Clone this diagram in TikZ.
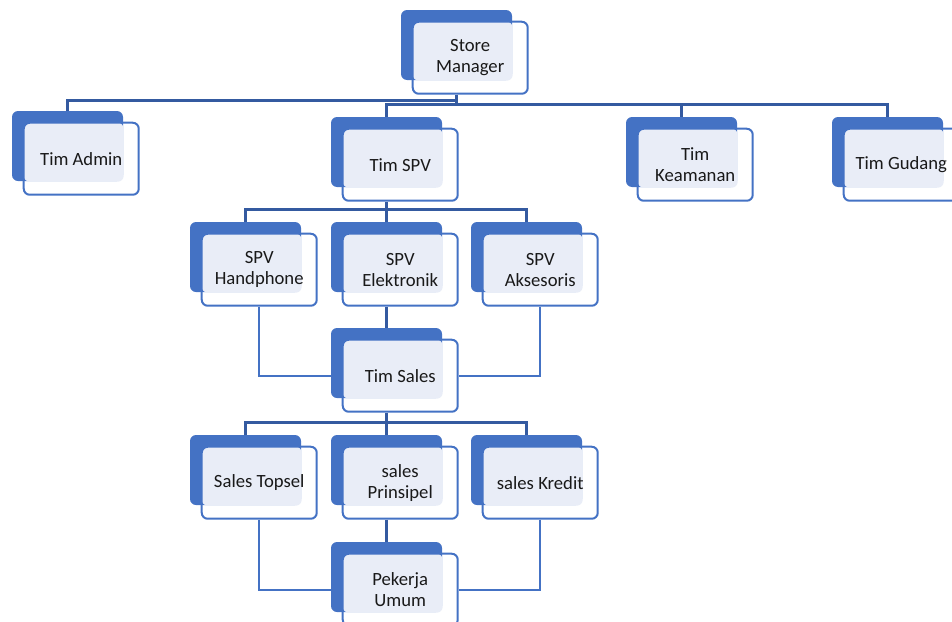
\documentclass[tikz,border=0pt]{standalone}
\usepackage{fontspec}
\setmainfont{Carlito}
\definecolor{orgblue}{RGB}{68,114,196}
\definecolor{orgdark}{RGB}{52,90,160}
\definecolor{orglite}{RGB}{233,237,247}
\usetikzlibrary{positioning,calc,backgrounds}

\begin{document}
\begin{tikzpicture}[
  x=0.75pt,y=-0.75pt,
  bk/.style={fill=orgblue,rounded corners=4.5pt,minimum width=83.25pt,minimum height=52.5pt,inner sep=0pt},
  card/.style={draw=orgblue,line width=1.5pt,rounded corners=4.5pt,minimum width=86.25pt,minimum height=54pt,
    inner sep=0pt,align=center,font=\fontsize{14}{15.5}\selectfont,text=black!90,
    below right=8.25pt and 8.25pt of #1.north west,
    path picture={\fill[orglite,rounded corners=4.5pt] (path picture bounding box.north west) rectangle ++(75pt,-44.25pt);}},
  bus/.style={draw=orgdark,line width=2pt},
  side/.style={draw=orgblue,line width=1.3pt}
]
  \useasboundingbox (0,0) rectangle (952,621);
  \node[bk] (sm-bk) at (456.5,45) {};
  \node[card=sm-bk] (sm) {Store\\Manager};
  \node[bk] (adm-bk) at (67.5,146) {};
  \node[card=adm-bk] (adm) {Tim Admin};
  \node[bk] (spv-bk) at (386.5,152) {};
  \node[card=spv-bk] (spv) {Tim SPV};
  \node[bk] (kea-bk) at (681.5,152) {};
  \node[card=kea-bk] (kea) {Tim\\Keamanan};
  \node[bk] (gud-bk) at (887.5,152) {};
  \node[card=gud-bk] (gud) {Tim Gudang};
  \node[bk] (hp-bk) at (245.5,257) {};
  \node[card=hp-bk] (hp) {SPV\\Handphone};
  \node[bk] (el-bk) at (386.5,257) {};
  \node[card=el-bk] (el) {SPV\\Elektronik};
  \node[bk] (ak-bk) at (526.5,257) {};
  \node[card=ak-bk] (ak) {SPV\\Aksesoris};
  \node[bk] (ts-bk) at (386.5,363) {};
  \node[card=ts-bk] (ts) {Tim Sales};
  \node[bk] (top-bk) at (245.5,470) {};
  \node[card=top-bk] (top) {Sales Topsel};
  \node[bk] (pri-bk) at (386.5,470) {};
  \node[card=pri-bk] (pri) {sales\\Prinsipel};
  \node[bk] (kre-bk) at (526.5,470) {};
  \node[card=kre-bk] (kre) {sales Kredit};
  \node[bk] (pu-bk) at (386.5,577) {};
  \node[card=pu-bk] (pu) {Pekerja\\Umum};

  \begin{scope}[on background layer]
    \coordinate (b1) at ($(sm-bk.south)+(0,24)$);
    \coordinate (b2) at ($(spv-bk.south)+(0,22)$);
    \coordinate (b3) at ($(ts-bk.south)+(0,24)$);
    \draw[bus] (sm-bk |- sm.south) -- ++(0,6) -| (adm-bk.north);
    \draw[bus] (sm-bk |- sm.south) -- (b1);
    \draw[bus] (spv-bk.north) |- (b1) -| (gud-bk.north);
    \draw[bus] (kea-bk.north) -- (kea-bk.north |- b1);
    \draw[bus] (spv-bk |- spv.south) -- (el-bk.north);
    \draw[bus] (hp-bk.north) |- (b2) -| (ak-bk.north);
    \draw[bus] (el-bk |- el.south) -- (ts-bk.north);
    \draw[side] (hp.south) |- (ts.west);
    \draw[side] (ak.south) |- (ts.east);
    \draw[bus] (ts-bk |- ts.south) -- (pri-bk.north);
    \draw[bus] (top-bk.north) |- (b3) -| (kre-bk.north);
    \draw[bus] (pri-bk |- pri.south) -- (pu-bk.north);
    \draw[side] (top.south) |- (pu.west);
    \draw[side] (kre.south) |- (pu.east);
  \end{scope}
\end{tikzpicture}
\end{document}
